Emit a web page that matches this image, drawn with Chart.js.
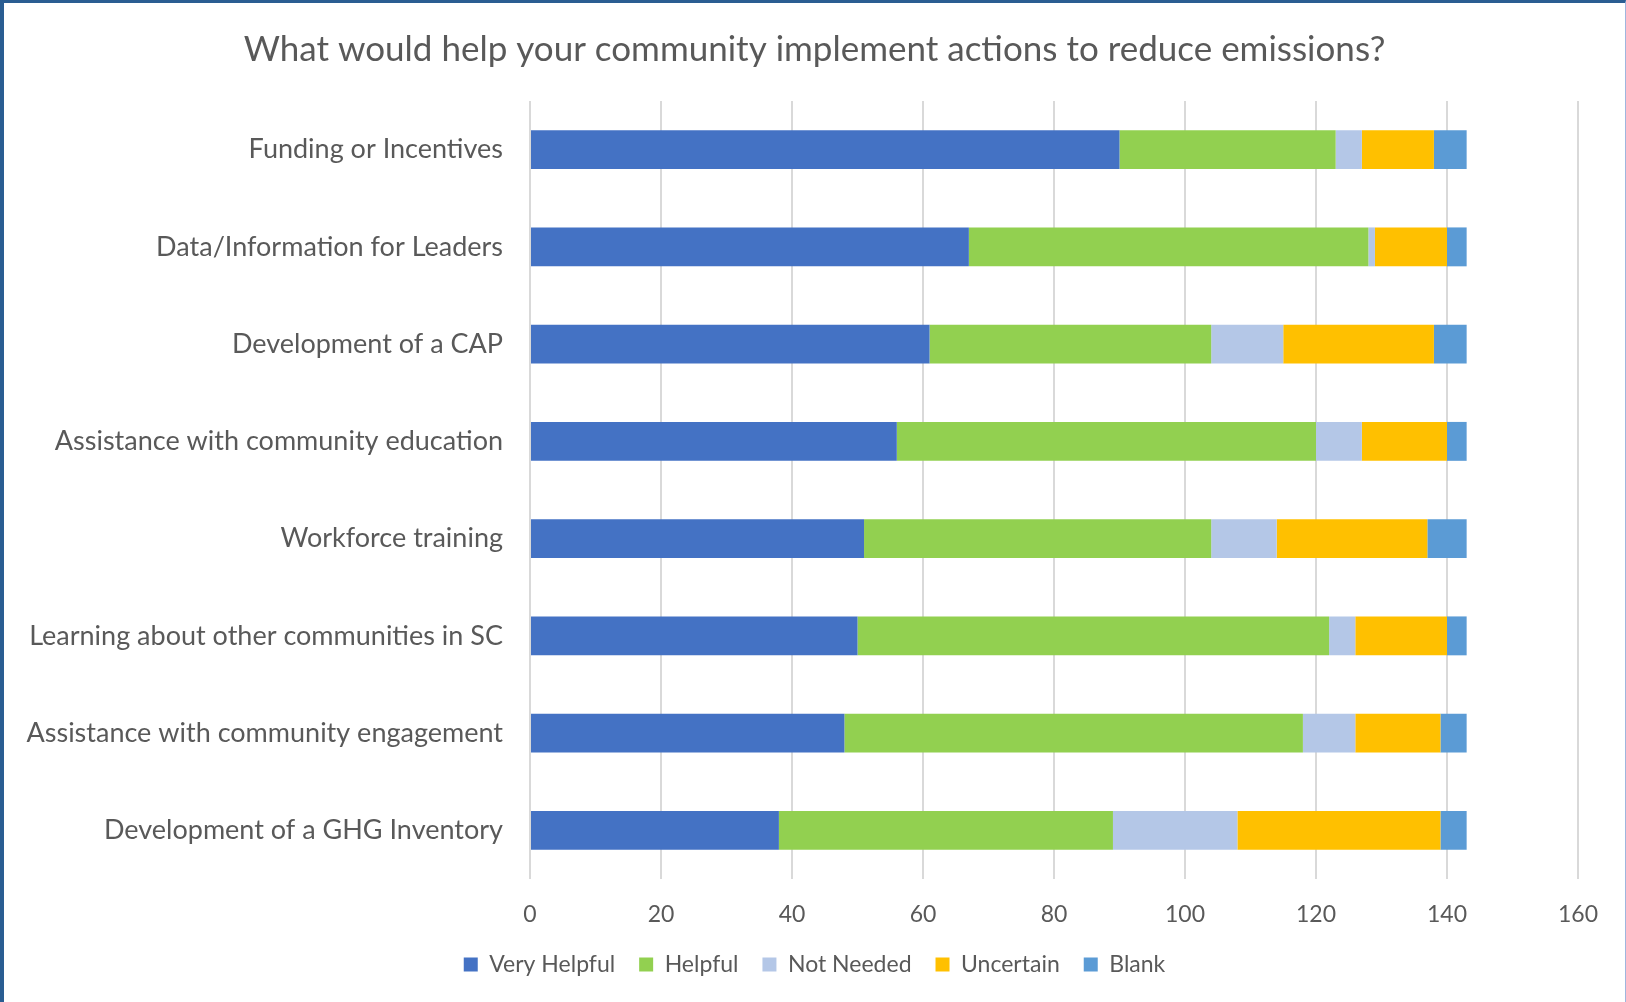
<!DOCTYPE html>
<html>
<head>
<meta charset="utf-8">
<script src="https://cdn.jsdelivr.net/npm/chart.js@4"></script>
<style>
  html, body { margin: 0; padding: 0; background: #fff; }
  #wrap {
    position: relative;
    width: 1621px; height: 999px;
    border-top: 3px solid #2a5d92;
    border-left: 4px solid #2a5d92;
    border-right: 1px solid #9fb6de;
    background: #fff;
  }
  canvas { display: block; }
</style>
</head>
<body>
<div id="wrap"><canvas id="chart" width="1621" height="999"></canvas></div>
<script>
// survey options, top to bottom
const categories = [
  'Funding or Incentives',
  'Data/Information for Leaders',
  'Development of a CAP',
  'Assistance with community education',
  'Workforce training',
  'Learning about other communities in SC',
  'Assistance with community engagement',
  'Development of a GHG Inventory'
];

// response counts per option
const veryHelpful = [90, 67, 61, 56, 51, 50, 48, 38];
const helpful     = [33, 61, 43, 64, 53, 72, 70, 51];
const notNeeded   = [4, 1, 11, 7, 10, 4, 8, 19];
const uncertain   = [11, 11, 23, 13, 23, 14, 13, 31];
const blank       = [5, 3, 5, 3, 6, 3, 4, 4];

const xTicks = [0, 20, 40, 60, 80, 100, 120, 140, 160];

const textColor = '#595959';
const fontFamily = 'Lato, "Open Sans", sans-serif';

function series(label, data, color) {
    return {
        label: label,
        data: data,
        backgroundColor: color,
        borderWidth: 0,
        barPercentage: 1.0,
        categoryPercentage: 0.40
    };
}

const ctx = document.getElementById('chart').getContext('2d');
new Chart(ctx, {
    type: 'bar',
    data: {
        labels: categories,
        datasets: [
            series('Very Helpful', veryHelpful, '#4472c4'),
            series('Helpful', helpful, '#92d050'),
            series('Not Needed', notNeeded, '#b4c7e7'),
            series('Uncertain', uncertain, '#ffc000'),
            series('Blank', blank, '#5b9bd5')
        ]
    },
    options: {
        indexAxis: 'y',
        responsive: false,
        animation: false,
        layout: { padding: { left: 0, right: 0, top: 0, bottom: 16 } },
        plugins: {
            title: {
                display: true,
                text: 'What would help your community implement actions to reduce emissions?',
                color: textColor,
                font: { family: fontFamily, size: 35, weight: 'normal' },
                padding: { top: 26, bottom: 30 }
            },
            legend: {
                position: 'bottom',
                labels: {
                    color: textColor,
                    font: { family: fontFamily, size: 23 },
                    boxWidth: 14,
                    boxHeight: 14,
                    padding: 24
                }
            },
            tooltip: { enabled: false }
        },
        scales: {
            x: {
                stacked: true,
                min: 0,
                max: 160,
                afterBuildTicks: (scale) => {
                    scale.ticks = xTicks.map(v => ({ value: v }));
                },
                afterFit: (scale) => { scale.height = 50; },
                grid: { color: '#d9d9d9', lineWidth: 2, drawTicks: false },
                border: { display: false },
                ticks: {
                    color: textColor,
                    font: { family: fontFamily, size: 23 },
                    padding: 22
                }
            },
            y: {
                stacked: true,
                afterFit: (scale) => { scale.width = 526; },
                grid: { display: false, drawTicks: false },
                border: { display: false },
                ticks: {
                    color: textColor,
                    font: { family: fontFamily, size: 27 },
                    padding: 27
                }
            },
            // empty right-hand axis: keeps room right of the plot
            yRight: {
                type: 'category',
                position: 'right',
                afterFit: (scale) => { scale.width = 47; },
                grid: { display: false, drawTicks: false },
                border: { display: false },
                ticks: { display: false }
            }
        }
    }
});
</script>
</body>
</html>
